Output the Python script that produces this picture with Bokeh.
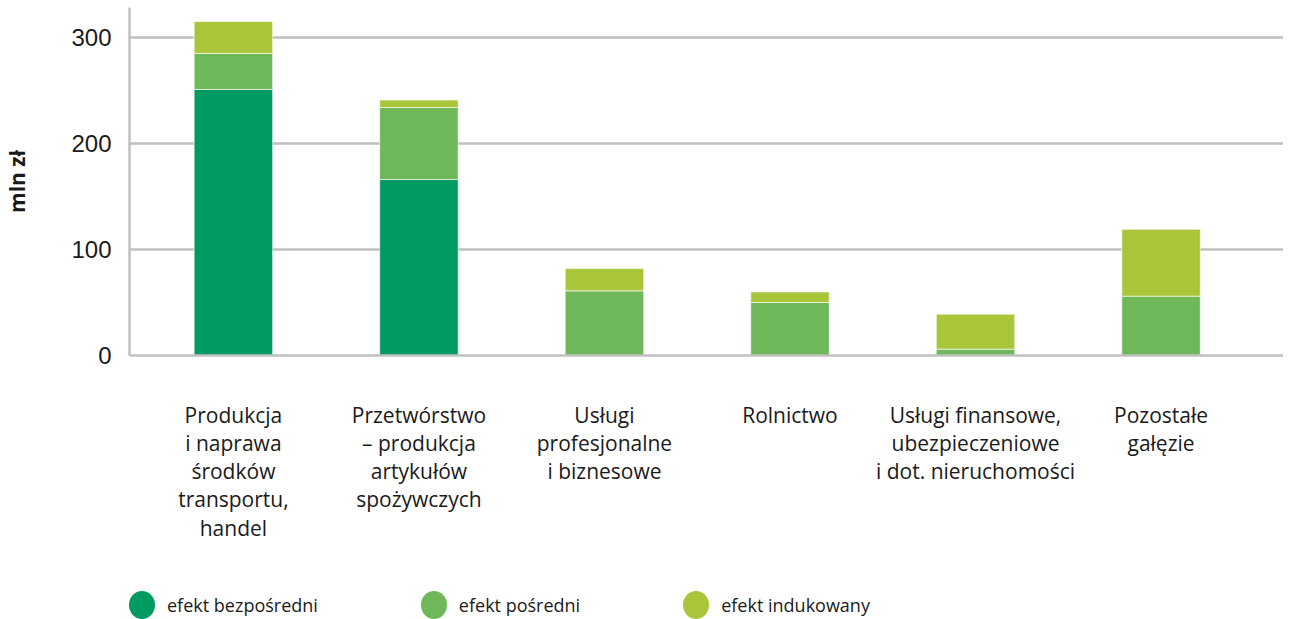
import math
from bokeh.plotting import figure
from bokeh.layouts import column
from bokeh.models import FixedTicker, Legend, LegendItem, ColumnDataSource, Range1d
from bokeh.embed import file_html
from bokeh.resources import INLINE

categories = [
    "Produkcja\ni naprawa\nśrodków\ntransportu,\nhandel",
    "Przetwórstwo\n– produkcja\nartykułów\nspożywczych",
    "Usługi\nprofesjonalne\ni biznesowe",
    "Rolnictwo",
    "Usługi finansowe,\nubezpieczeniowe\ni dot. nieruchomości",
    "Pozostałe\ngałęzie",
]
series_names = ["efekt bezpośredni", "efekt pośredni", "efekt indukowany"]
bezposredni = [251, 166, 0, 0, 0, 0]
posredni = [34, 68, 61, 50, 6, 56]
indukowany = [30, 7, 21, 10, 33, 63]
y_ticks = [0, 100, 200, 300]
y_label = "mln zł"

colors = ["#009a63", "#6eb85a", "#a9c63a"]
keys = ["bezp", "posr", "indu"]

src = ColumnDataSource(dict(x=list(range(len(categories))),
                            bezp=bezposredni, posr=posredni, indu=indukowany))

p = figure(width=1283, height=544, output_backend="svg", toolbar_location=None,
           x_range=(-0.56, 5.66), y_range=(0, 328.3),
           min_border_left=122, min_border_right=0, min_border_top=7, min_border_bottom=0)
p.outline_line_color = None

p.vbar_stack(keys, x="x", width=0.423, source=src, color=colors,
             line_color="white", line_alpha=0.6, line_width=1)

p.yaxis.ticker = FixedTicker(ticks=y_ticks)
p.yaxis.axis_label = y_label
p.yaxis.axis_label_text_font = "Open Sans"
p.yaxis.axis_label_text_font_style = "bold"
p.yaxis.axis_label_text_font_size = "21px"
p.yaxis.axis_label_text_color = "#1a1a1a"
p.yaxis.axis_label_standoff = 37
p.yaxis.major_label_text_font = "Liberation Sans"
p.yaxis.major_label_text_font_size = "24px"
p.yaxis.major_label_text_color = "#1a1a1a"
p.yaxis.major_label_standoff = 12
p.yaxis.major_tick_line_color = None
p.yaxis.minor_tick_line_color = None
p.yaxis.axis_line_color = "#c0c0c0"
p.yaxis.axis_line_width = 2.5

p.xaxis.ticker = FixedTicker(ticks=list(range(len(categories))))
p.xaxis.major_label_overrides = {i: c for i, c in enumerate(categories)}
p.xaxis.major_label_text_font = "Open Sans"
p.xaxis.major_label_text_font_size = "21px"
p.xaxis.major_label_text_line_height = 1.01
p.xaxis.major_label_text_color = "#1a1a1a"
p.xaxis.major_label_standoff = 39
p.xaxis.major_tick_line_color = None
p.xaxis.minor_tick_line_color = None
p.xaxis.axis_line_color = "#c0c0c0"
p.xaxis.axis_line_width = 2.5

p.xgrid.grid_line_color = None
p.ygrid.grid_line_color = "#c0c0c0"
p.ygrid.grid_line_width = 2.5

# legend in a separate strip below the chart
lg = figure(width=1283, height=75, output_backend="svg", toolbar_location=None,
            x_range=Range1d(0, 1), y_range=Range1d(0, 1),
            x_axis_type=None, y_axis_type=None,
            min_border_left=0, min_border_right=0, min_border_top=0, min_border_bottom=0)
lg.grid.visible = False
lg.outline_line_color = None
items = []
for name, col in zip(series_names, colors):
    r = lg.ellipse(x=[math.nan], y=[math.nan], width=[26], height=[28],
                   width_units="screen", height_units="screen",
                   fill_color=col, line_color=None)
    items.append(LegendItem(label=name, renderers=[r]))
legend = Legend(items=items, orientation="horizontal", location=(-5, -3),
                glyph_width=35, glyph_height=35, label_standoff=8, spacing=98,
                margin=0, padding=0, border_line_color=None,
                label_text_font="Open Sans", label_text_font_size="18px",
                label_text_color="#1a1a1a", background_fill_alpha=0)
lg.add_layout(legend)

layout = column(p, lg, spacing=0)
open("out.html", "w").write(file_html(layout, INLINE))
